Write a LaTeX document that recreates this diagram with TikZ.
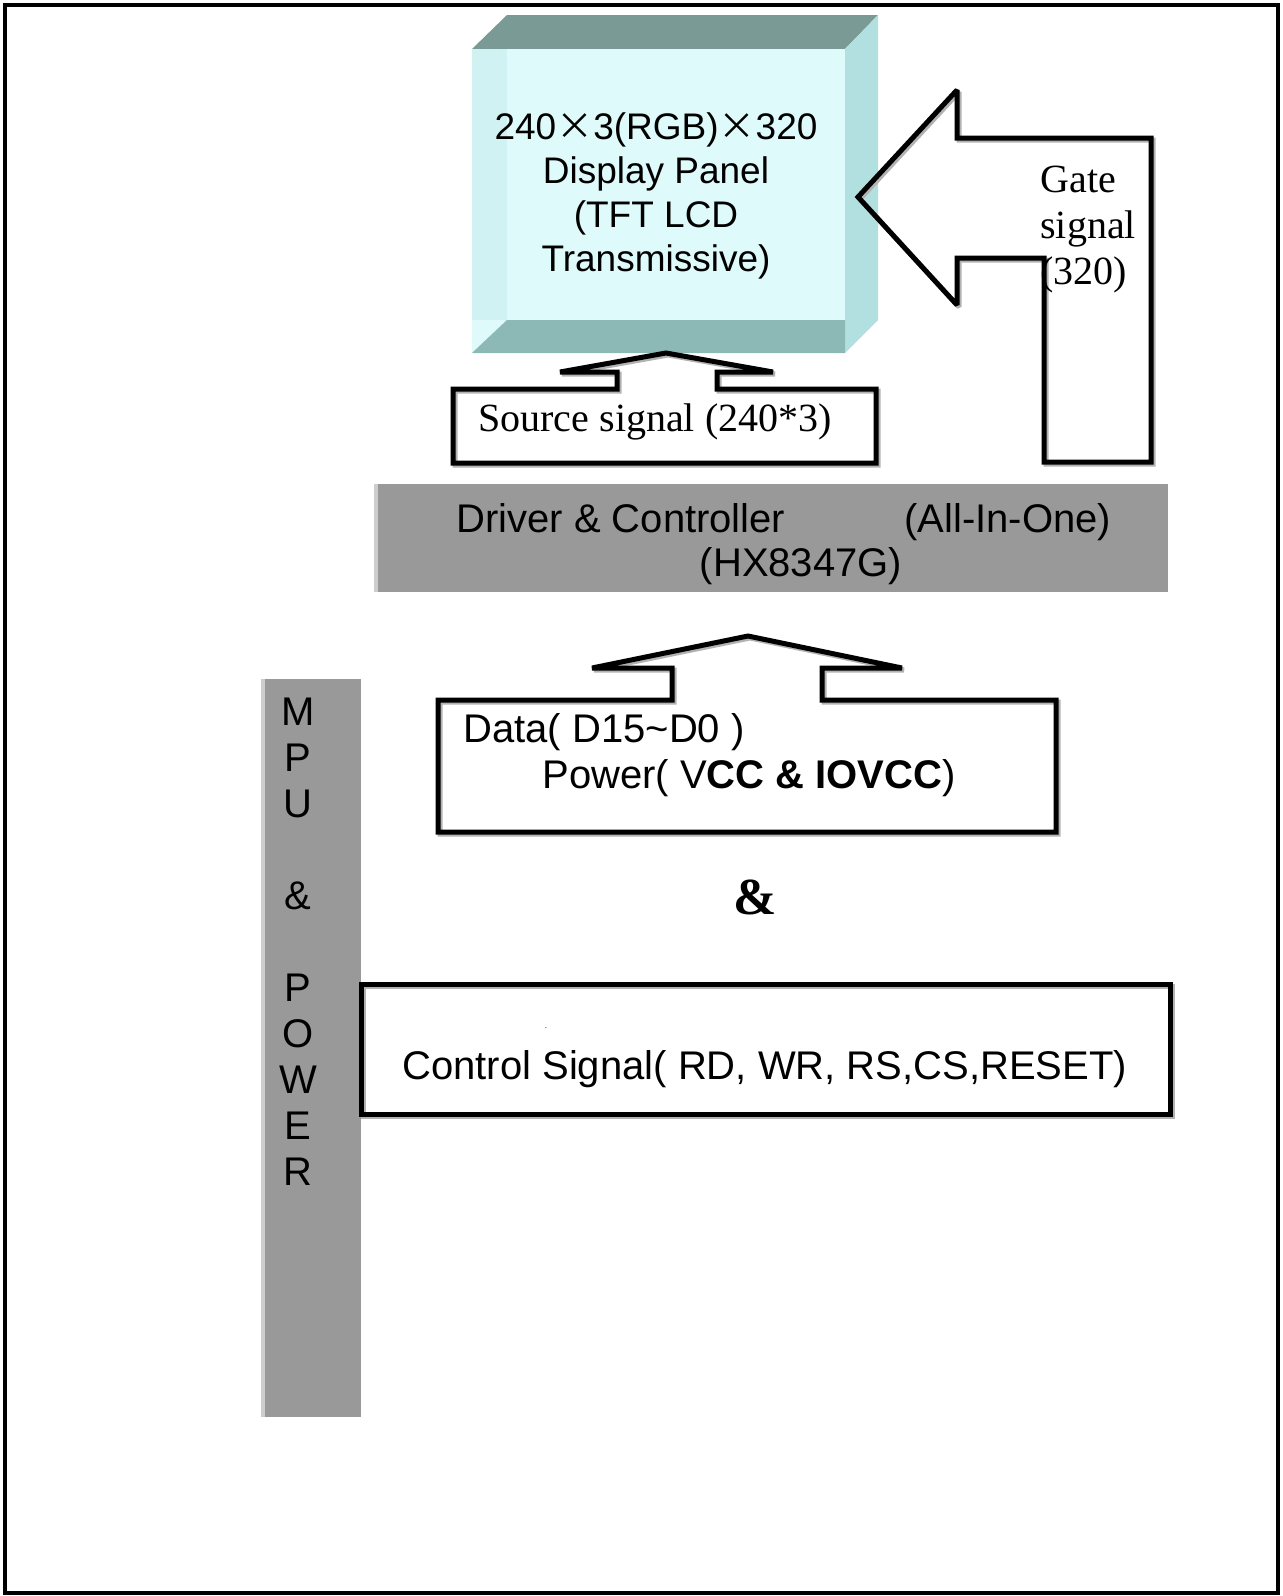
\documentclass[tikz,border=0pt]{standalone}
\usepackage{fontspec}
\setmainfont{Liberation Serif}
\setsansfont{Liberation Sans}
\newfontfamily\cjkfont{Noto Sans CJK SC}
\usetikzlibrary{positioning}
\definecolor{panelFront}{RGB}{222,250,250}
\definecolor{panelLeft}{RGB}{208,242,242}
\definecolor{panelTop}{RGB}{122,154,150}
\definecolor{panelSide}{RGB}{178,224,224}
\definecolor{panelBottom}{RGB}{140,184,182}
\definecolor{barGray}{RGB}{153,153,153}
\definecolor{barEdge}{RGB}{205,205,205}
\newcommand{\timesmark}{\makebox[1em]{\cjkfont ×}}
\tikzset{
	sanstext/.style={font=\sffamily\fontsize{20}{23}\selectfont, inner sep=0pt},
	seriftext/.style={font=\rmfamily\fontsize{20}{23}\selectfont, inner sep=0pt},
	paneltext/.style={font=\sffamily\fontsize{18.5}{22}\selectfont, inner sep=0pt, align=center},
	blockarrow/.style={draw=black, line width=2.5pt, line join=miter, miter limit=2,
		preaction={draw=gray!60, line width=2.5pt, line join=miter, miter limit=2,
			transform canvas={shift={(1pt,-1pt)}}}},
	graybar/.style={fill=barGray, draw=none},
}
\begin{document}
\begin{tikzpicture}[x=0.5pt, y=-0.5pt]
	\useasboundingbox (0,0) rectangle (1282,1596);
	\draw[line width=2pt] (4.5,4.5) rectangle (1278,1593);

	\fill[panelTop] (472,49) -- (507,15) -- (878,15) -- (845,49) -- cycle;
	\fill[panelSide] (845,49) -- (878,15) -- (878,320) -- (845,353) -- cycle;
	\fill[panelFront] (472,49) rectangle (845,353);
	\fill[panelLeft] (472,49) rectangle (507,320);
	\fill[panelBottom] (472,353) -- (507,320) -- (845,320) -- (845,353) -- cycle;
	\node[paneltext, anchor=north] (panelTxt) at (656,112) {240\timesmark3(RGB)\timesmark320\\Display Panel\\(TFT LCD\\Transmissive)};

	\draw[blockarrow] (1151,138) -- (957,138) -- (957,90) -- (858,197) -- (957,305) -- (957,258)
		-- (1044,258) -- (1044,462) -- (1151,462) -- cycle;
	\node[seriftext, align=left, anchor=north west] (gateTxt) at (1040,166) {Gate\\signal\\(320)};

	\draw[blockarrow] (453,389) -- (617,389) -- (617,372) -- (560,372) -- (666,353) -- (773,372)
		-- (717,372) -- (717,389) -- (876,389) -- (876,463) -- (453,463) -- cycle;
	\node[seriftext, anchor=west] (srcTxt) at (478,422) {Source signal (240*3)};

	\fill[graybar] (374,484) rectangle (1168,592);
	\fill[barEdge] (374,484) rectangle (378,592);
	\node[sanstext, anchor=base west] (drvName) at (456,532) {Driver \& Controller};
	\node[sanstext, anchor=base west] (drvMode) at (904,532) {(All-In-One)};
	\node[sanstext, anchor=base] (drvChip) at (801,576) {(HX8347G)};

	\draw[blockarrow] (438,700) -- (672,700) -- (672,668) -- (592,668) -- (748,636) -- (902,668)
		-- (822,668) -- (822,700) -- (1056,700) -- (1056,832) -- (438,832) -- cycle;
	\node[sanstext, anchor=west] (dataTxt) at (463,732) {Data( D15\char`~D0 )};
	\node[sanstext, anchor=west] (powerTxt) at (542,778) {Power( V\textbf{CC \& IOVCC})};

	\node[font=\rmfamily\bfseries\fontsize{26}{26}\selectfont, inner sep=0pt] (andTxt) at (755,897) {\&};

	\fill[graybar] (261,679) rectangle (361,1417);
	\fill[barEdge] (261,679) rectangle (265,1417);
	\node[sanstext, align=center, anchor=north] (mpuTxt) at (298,698) {M\\P\\U\\\mbox{}\\\&\\\mbox{}\\P\\O\\W\\E\\R};

	\draw[blockarrow] (361,984) rectangle (1170,1114);
	\node[font=\sffamily\fontsize{4}{4}\selectfont, inner sep=0pt] (ctrlDot) at (546,1028) {.};
	\node[sanstext, anchor=west] (ctrlTxt) at (402,1069) {Control Signal( RD, WR, RS,CS,RESET)};
\end{tikzpicture}
\end{document}
